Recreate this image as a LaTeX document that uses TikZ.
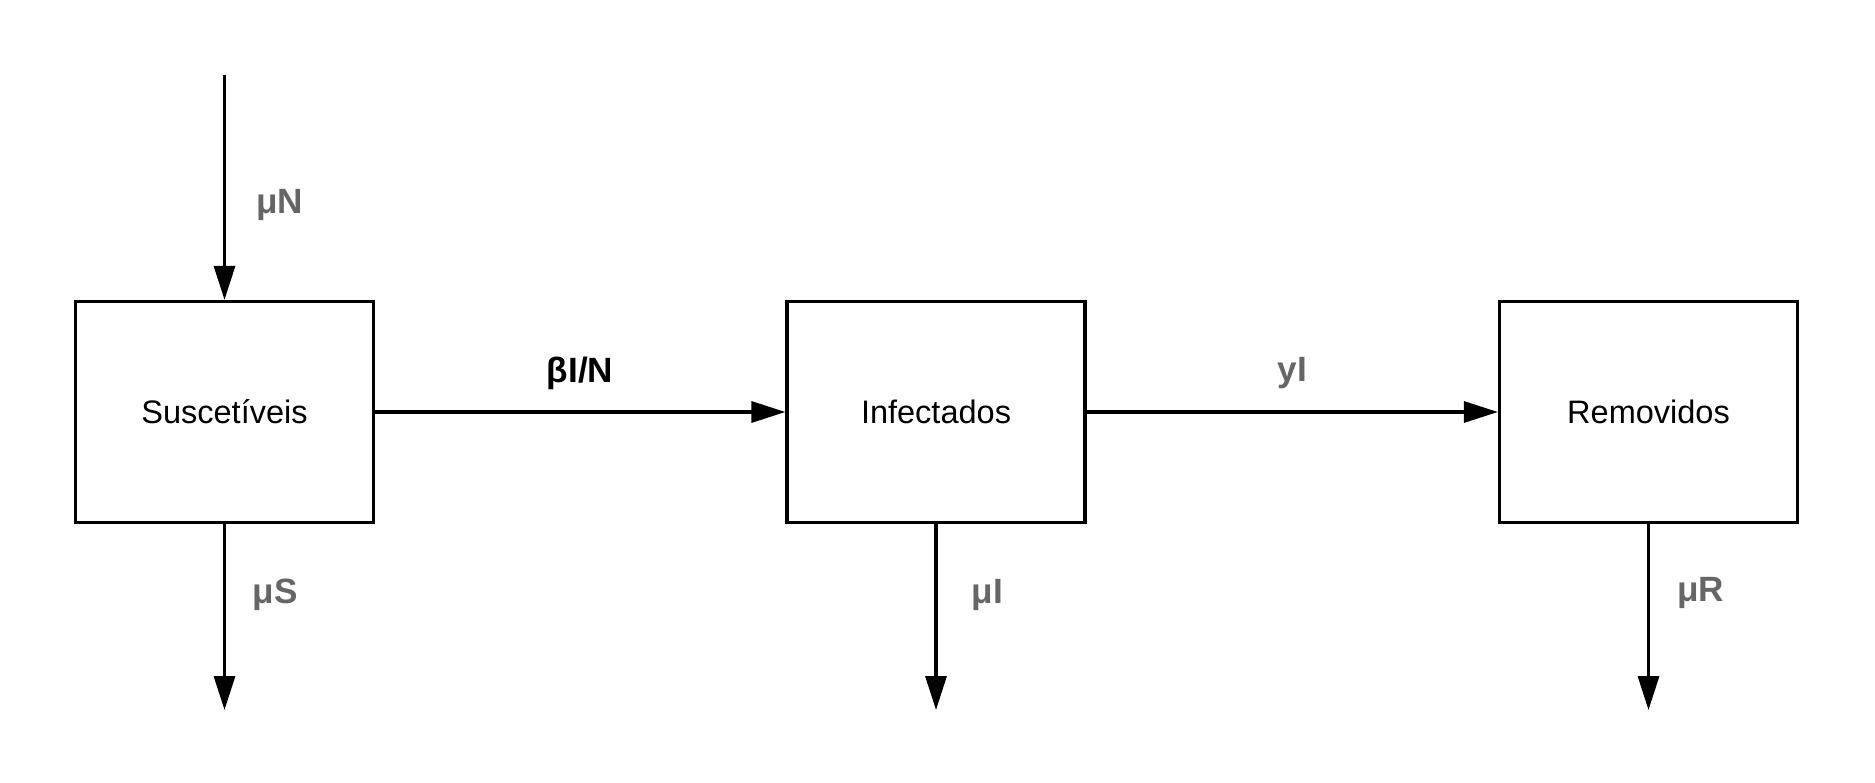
\documentclass[tikz,border=0pt]{standalone}
\usepackage{fontspec}
\setmainfont{Liberation Sans}
\usetikzlibrary{arrows.meta}
\definecolor{ratecol}{HTML}{666666}
\tikzset{
  compart/.style={draw, line width=0.065cm, minimum width=5.96cm, minimum height=4.42cm, font=\fontsize{18.5}{22}\selectfont},
  flow/.style={line width=0.065cm, -{Triangle[length=0.68cm, width=0.42cm]}},
  rate/.style={font=\bfseries\fontsize{20}{24}\selectfont, text=ratecol}
}
\begin{document}
\begin{tikzpicture}
\useasboundingbox (0,0) rectangle (37.5,15.64);

\node[compart] (sus) at (4.49,7.4) {Suscetíveis};
\node[compart] (inf) at (18.72,7.4) {Infectados};
\node[compart] (rem) at (32.97,7.4) {Removidos};

\coordinate (birth) at (4.49,14.14);
\coordinate (dieS) at (4.49,1.44);
\coordinate (dieI) at (18.72,1.44);
\coordinate (dieR) at (32.97,1.44);

\draw[flow] (birth) -- (sus);
\draw[flow] (sus) -- (inf);
\draw[flow] (inf) -- (rem);
\draw[flow] (sus) -- (dieS);
\draw[flow] (inf) -- (dieI);
\draw[flow] (rem) -- (dieR);

\node[rate] (muN) at (5.59,11.54) {μN};
\node[rate, text=black] (beta) at (11.6,8.18) {βI/N};
\node[rate] (gam) at (25.85,8.18) {yI};
\node[rate] (muS) at (5.5,3.74) {μS};
\node[rate] (muI) at (19.75,3.74) {μI};
\node[rate] (muR) at (34.01,3.78) {μR};
\end{tikzpicture}
\end{document}
